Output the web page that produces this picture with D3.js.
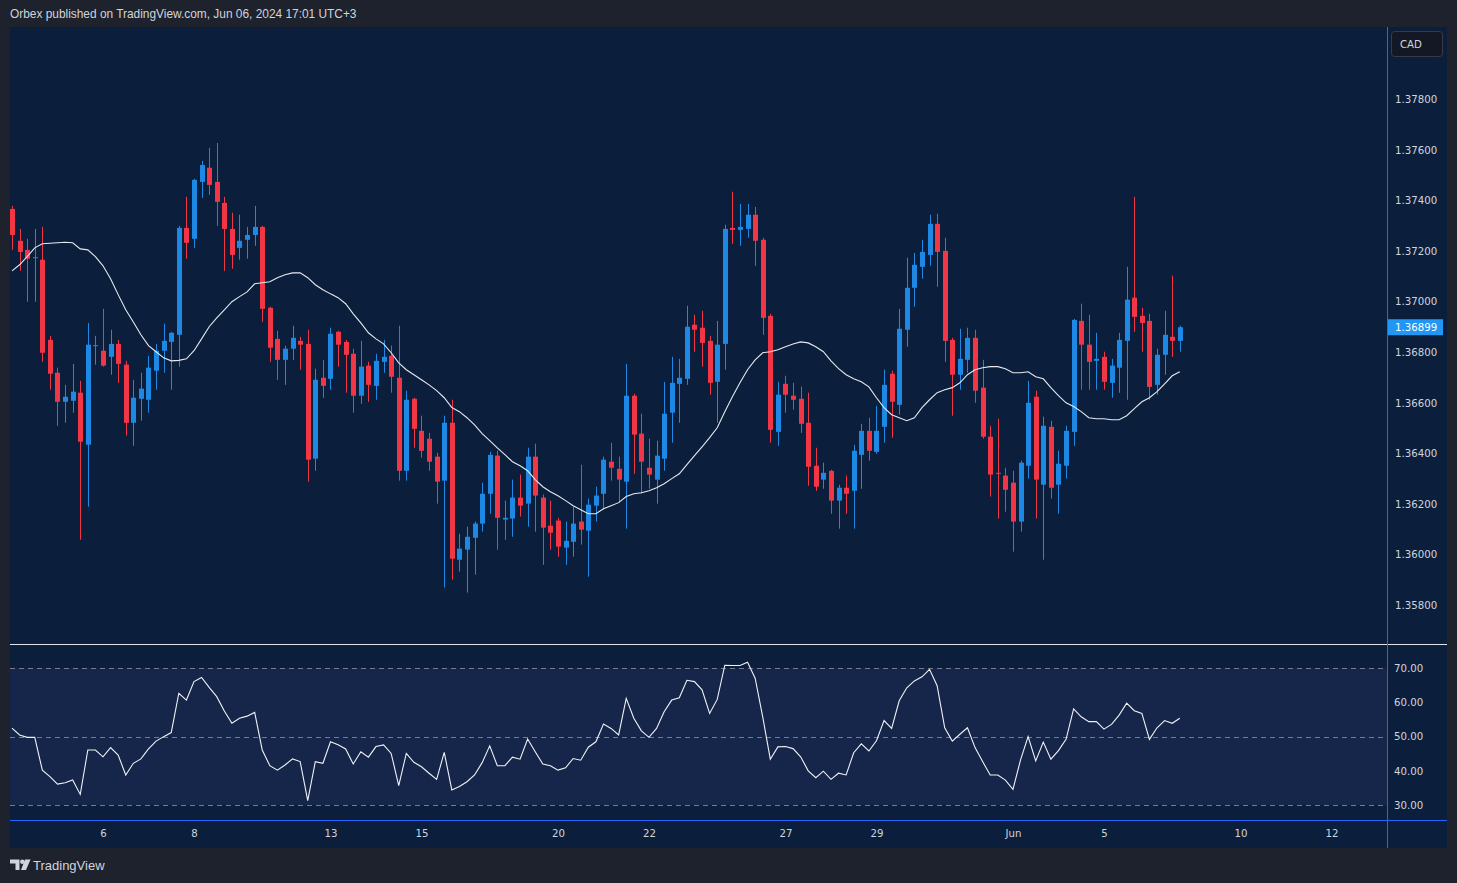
<!DOCTYPE html>
<html>
<head>
<meta charset="utf-8">
<script src="https://cdn.jsdelivr.net/npm/d3@7"></script>
<style>
  body { margin: 0; background: #1e222d; overflow: hidden; }
  svg { display: block; }
  .axis text { font-family: "DejaVu Sans", sans-serif; font-size: 10.2px; fill: #d1d4dc; }
</style>
</head>
<body>
<svg id="chart" width="1457" height="883"></svg>
<script>
// USDCAD 4H candles, May 2 - Jun 6 2024 (bar index 0 = first visible bar)
const opens = [
  1.37367,1.37241,1.37205,1.37174,1.37166,1.36849,1.36719,1.36604,1.36608,1.36640,
  1.36434,1.36826,1.36806,1.36782,1.36833,1.36751,1.36521,1.36616,1.36612,1.36727,
  1.36806,1.36841,1.36869,1.37292,1.37249,1.37474,1.37530,1.37474,1.37391,1.37288,
  1.37213,1.37245,1.37264,1.37296,1.36976,1.36853,1.36770,1.36814,1.36845,1.36833,
  1.36379,1.36699,1.36695,1.36881,1.36841,1.36794,1.36628,1.36747,1.36667,1.36762,
  1.36786,1.36699,1.36331,1.36616,1.36489,1.36458,1.36387,1.36292,1.36521,1.35979,
  1.36019,1.36066,1.36122,1.36240,1.36391,1.36138,1.36142,1.36225,1.36201,1.36387,
  1.36225,1.36114,1.36134,1.36027,1.36050,1.36130,1.36094,1.36193,1.36240,1.36367,
  1.36339,1.36288,1.36628,1.36478,1.36343,1.36296,1.36379,1.36561,1.36675,1.36695,
  1.36909,1.36897,1.36845,1.36683,1.36833,1.37292,1.37284,1.37288,1.37344,1.37245,
  1.36944,1.36485,1.36675,1.36628,1.36616,1.36521,1.36351,1.36296,1.36331,1.36213,
  1.36264,1.36252,1.36394,1.36489,1.36406,1.36505,1.36715,1.36592,1.36889,1.37055,
  1.37138,1.37185,1.37308,1.37201,1.36849,1.36711,1.36770,1.36857,1.36660,1.36466,
  1.36323,1.36312,1.36284,1.36130,1.36351,1.36624,1.36276,1.36505,1.36276,1.36351,
  1.36485,1.36924,1.36830,1.36766,1.36782,1.36679,1.36739,1.36845,1.37016,1.36944,
  1.36924,1.36671,1.36790,1.36861,1.36845
];
const highs = [
  1.37379,1.37288,1.37249,1.37288,1.37296,1.36865,1.36739,1.36671,1.36754,1.36687,
  1.36916,1.36865,1.36972,1.36889,1.36849,1.36766,1.36691,1.36719,1.36786,1.36833,
  1.36913,1.36881,1.37300,1.37415,1.37486,1.37557,1.37609,1.37628,1.37415,1.37352,
  1.37344,1.37296,1.37379,1.37300,1.36980,1.36885,1.36826,1.36905,1.36861,1.36889,
  1.36735,1.36770,1.36897,1.36885,1.36849,1.36814,1.36845,1.36762,1.36794,1.36849,
  1.36826,1.36905,1.36648,1.36620,1.36549,1.36481,1.36402,1.36549,1.36612,1.36082,
  1.36110,1.36130,1.36284,1.36406,1.36410,1.36213,1.36296,1.36316,1.36422,1.36438,
  1.36237,1.36213,1.36145,1.36130,1.36189,1.36355,1.36221,1.36268,1.36387,1.36442,
  1.36387,1.36754,1.36636,1.36557,1.36458,1.36450,1.36683,1.36782,1.36774,1.36984,
  1.36948,1.36964,1.36865,1.36924,1.37304,1.37435,1.37387,1.37387,1.37375,1.37253,
  1.36952,1.36683,1.36707,1.36679,1.36664,1.36640,1.36422,1.36363,1.36335,1.36276,
  1.36312,1.36434,1.36517,1.36541,1.36588,1.36731,1.36727,1.36972,1.37174,1.37193,
  1.37245,1.37344,1.37348,1.37253,1.36857,1.36893,1.36897,1.36889,1.36770,1.36509,
  1.36537,1.36343,1.36331,1.36371,1.36687,1.36648,1.36545,1.36529,1.36410,1.36509,
  1.36932,1.36992,1.36948,1.36877,1.36802,1.36774,1.36877,1.37138,1.37415,1.36976,
  1.36952,1.36814,1.36964,1.37103,1.36905
];
const lows = [
  1.37205,1.37122,1.37000,1.37000,1.36762,1.36652,1.36509,1.36521,1.36561,1.36058,
  1.36189,1.36751,1.36743,1.36711,1.36679,1.36470,1.36430,1.36529,1.36561,1.36652,
  1.36719,1.36652,1.36743,1.37170,1.37213,1.37411,1.37423,1.37300,1.37122,1.37130,
  1.37166,1.37170,1.37221,1.36920,1.36762,1.36691,1.36671,1.36770,1.36731,1.36288,
  1.36331,1.36620,1.36652,1.36743,1.36640,1.36561,1.36596,1.36604,1.36612,1.36719,
  1.36640,1.36292,1.36292,1.36422,1.36383,1.36331,1.36201,1.35869,1.35900,1.35932,
  1.35849,1.35920,1.36090,1.36161,1.36019,1.36058,1.36070,1.36150,1.36110,1.36090,
  1.35959,1.36019,1.35991,1.35959,1.35991,1.36039,1.35912,1.36130,1.36177,1.36292,
  1.36205,1.36102,1.36319,1.36240,1.36260,1.36201,1.36331,1.36442,1.36521,1.36671,
  1.36802,1.36743,1.36632,1.36521,1.36731,1.37229,1.37221,1.37253,1.37142,1.36869,
  1.36442,1.36430,1.36561,1.36573,1.36481,1.36272,1.36252,1.36260,1.36161,1.36102,
  1.36161,1.36102,1.36260,1.36371,1.36398,1.36442,1.36462,1.36553,1.36822,1.36980,
  1.37091,1.37142,1.37059,1.36762,1.36549,1.36652,1.36719,1.36600,1.36458,1.36229,
  1.36142,1.36169,1.36011,1.36090,1.36300,1.36142,1.35979,1.36221,1.36161,1.36300,
  1.36430,1.36652,1.36652,1.36652,1.36652,1.36620,1.36640,1.36612,1.36881,1.36802,
  1.36612,1.36632,1.36711,1.36782,1.36802
];
const closes = [
  1.37264,1.37197,1.37170,1.37176,1.36798,1.36715,1.36604,1.36624,1.36644,1.36446,
  1.36830,1.36828,1.36747,1.36833,1.36754,1.36521,1.36620,1.36656,1.36739,1.36806,
  1.36845,1.36877,1.37292,1.37233,1.37482,1.37541,1.37462,1.37395,1.37288,1.37185,
  1.37241,1.37264,1.37296,1.36972,1.36818,1.36770,1.36814,1.36857,1.36830,1.36375,
  1.36691,1.36667,1.36873,1.36830,1.36790,1.36628,1.36743,1.36671,1.36766,1.36782,
  1.36703,1.36331,1.36612,1.36497,1.36410,1.36367,1.36288,1.36521,1.35983,1.36023,
  1.36070,1.36122,1.36240,1.36394,1.36145,1.36145,1.36225,1.36193,1.36387,1.36233,
  1.36106,1.36086,1.36031,1.36054,1.36122,1.36098,1.36197,1.36233,1.36375,1.36343,
  1.36296,1.36628,1.36474,1.36367,1.36316,1.36391,1.36557,1.36679,1.36699,1.36901,
  1.36889,1.36837,1.36679,1.36830,1.37288,1.37284,1.37296,1.37344,1.37241,1.36936,
  1.36493,1.36632,1.36632,1.36612,1.36517,1.36347,1.36268,1.36323,1.36213,1.36264,
  1.36240,1.36410,1.36489,1.36410,1.36489,1.36671,1.36604,1.36893,1.37055,1.37146,
  1.37197,1.37308,1.37197,1.36845,1.36711,1.36774,1.36857,1.36648,1.36466,1.36316,
  1.36319,1.36256,1.36130,1.36363,1.36600,1.36296,1.36509,1.36264,1.36359,1.36489,
  1.36928,1.36830,1.36762,1.36774,1.36683,1.36747,1.36849,1.37008,1.36940,1.36916,
  1.36663,1.36790,1.36869,1.36845,1.36899
];
// moving average overlay
const maValues = [
  1.37122,1.37146,1.37178,1.37213,1.37229,1.37231,1.37233,1.37235,1.37233,1.37209,
  1.37205,1.37178,1.37142,1.37091,1.37028,1.36968,1.36920,1.36869,1.36826,1.36802,
  1.36778,1.36766,1.36768,1.36774,1.36806,1.36853,1.36901,1.36936,1.36968,1.37000,
  1.37020,1.37039,1.37071,1.37075,1.37079,1.37095,1.37107,1.37114,1.37114,1.37095,
  1.37067,1.37047,1.37031,1.37016,1.36992,1.36952,1.36916,1.36877,1.36853,1.36833,
  1.36798,1.36758,1.36731,1.36711,1.36691,1.36671,1.36648,1.36620,1.36581,1.36565,
  1.36541,1.36513,1.36478,1.36450,1.36422,1.36395,1.36367,1.36351,1.36331,1.36296,
  1.36268,1.36248,1.36232,1.36213,1.36193,1.36177,1.36161,1.36161,1.36181,1.36193,
  1.36205,1.36229,1.36240,1.36244,1.36252,1.36264,1.36280,1.36300,1.36319,1.36355,
  1.36391,1.36426,1.36462,1.36501,1.36565,1.36624,1.36679,1.36731,1.36770,1.36798,
  1.36802,1.36810,1.36822,1.36833,1.36841,1.36837,1.36822,1.36802,1.36766,1.36735,
  1.36711,1.36695,1.36683,1.36663,1.36620,1.36581,1.36553,1.36541,1.36529,1.36541,
  1.36581,1.36612,1.36640,1.36652,1.36660,1.36679,1.36711,1.36731,1.36739,1.36743,
  1.36743,1.36735,1.36719,1.36719,1.36723,1.36703,1.36695,1.36660,1.36628,1.36600,
  1.36585,1.36565,1.36541,1.36537,1.36537,1.36533,1.36533,1.36549,1.36577,1.36604,
  1.36620,1.36644,1.36675,1.36707,1.36723
];
const rsiValues = [
  52.5,50.5,49.8,49.8,40.2,38.3,36.1,36.5,37.3,33.1,
  46.1,46.1,44.1,46.8,44.6,38.8,42.2,43.5,46.4,48.7,
  50.0,51.2,62.7,60.7,66.1,67.3,64.4,61.7,57.5,53.9,
  55.4,56.0,57.1,46.1,41.5,40.2,41.7,43.5,42.7,31.3,
  42.7,42.2,48.5,47.6,46.4,42.0,45.6,44.0,47.1,47.6,
  45.1,35.7,45.1,42.5,41.2,39.3,37.5,45.4,34.4,35.4,
  36.8,38.8,42.4,47.3,41.5,41.5,44.0,43.4,49.3,45.6,
  42.0,41.5,40.2,40.9,43.6,43.1,46.9,48.5,53.7,52.4,
  50.5,61.2,55.4,51.7,49.8,52.4,57.3,60.7,61.4,66.5,
  66.1,63.7,56.8,60.9,70.9,70.8,70.8,71.8,67.1,55.8,
  43.4,47.0,47.1,46.5,44.1,40.0,38.0,39.9,37.5,39.3,
  38.8,45.3,47.9,45.8,48.8,54.7,52.4,60.5,64.3,66.3,
  67.5,69.7,64.9,52.6,48.7,50.7,52.6,46.8,42.7,38.8,
  38.8,37.3,34.6,43.2,50.0,42.9,48.4,43.4,45.9,49.2,
  58.1,55.8,54.4,54.4,52.2,53.6,56.3,59.8,57.6,56.8,
  49.2,52.6,54.7,53.9,55.4
];

// time axis: bar index of each day label (future days continue the 6-bars-a-day grid)
const tickIndex = [12, 24, 42, 54, 72, 84, 102, 114, 132, 144, 162, 174];
const tickLabels = ['6', '8', '13', '15', '20', '22', '27', '29', 'Jun', '5', '10', '12'];
const priceTicks = [1.358, 1.360, 1.362, 1.364, 1.366, 1.368, 1.370, 1.372, 1.374, 1.376, 1.378];
const rsiTicks = [30, 40, 50, 60, 70];
const rsiBands = [70, 50, 30];

const UP = '#1e88e5', DOWN = '#f23645';
const BG = '#0b1f3c', BAND = '#16264a';

const paneLeft = 10, plotRight = 1387, frameRight = 1447;
const paneTop = 27, priceBottom = 644.5, rsiBottom = 820.5, frameBottom = 848;

const svg = d3.select('#chart');

svg.append('rect').attr('width', 1457).attr('height', 883).attr('fill', '#1e222d');
svg.append('rect')
    .attr('x', paneLeft).attr('y', paneTop)
    .attr('width', frameRight - paneLeft).attr('height', frameBottom - paneTop)
    .attr('fill', BG);

const candles = d3.range(closes.length).map(i => ({
    i, o: opens[i], h: highs[i], l: lows[i], c: closes[i]
}));

const x = d3.scaleLinear().domain([(paneLeft - 12) / 7.583, (plotRight - 12) / 7.583]).range([paneLeft, plotRight]);
const y = d3.scaleLinear().domain([1.358, 1.378]).range([605, 99.5]);
const yr = d3.scaleLinear().domain([30, 70]).range([805, 668.3]);

// clip regions
const defs = svg.append('defs');
defs.append('clipPath').attr('id', 'clip-price')
    .append('rect').attr('x', paneLeft).attr('y', paneTop).attr('width', plotRight - paneLeft).attr('height', priceBottom - paneTop);
defs.append('clipPath').attr('id', 'clip-rsi')
    .append('rect').attr('x', paneLeft).attr('y', priceBottom).attr('width', plotRight - paneLeft).attr('height', rsiBottom - priceBottom);

// RSI pane background band + guide lines
svg.append('rect')
    .attr('x', paneLeft).attr('y', yr(70))
    .attr('width', plotRight - paneLeft).attr('height', yr(30) - yr(70))
    .attr('fill', BAND);

svg.selectAll('.band-line')
    .data(rsiBands)
    .enter()
    .append('line')
    .attr('class', 'band-line')
    .attr('x1', paneLeft).attr('x2', plotRight)
    .attr('y1', d => Math.round(yr(d)) + 0.5).attr('y2', d => Math.round(yr(d)) + 0.5)
    .attr('stroke', '#787b86')
    .attr('stroke-dasharray', '5,4')
    .attr('stroke-width', 1);

// candles
const pricePane = svg.append('g').attr('clip-path', 'url(#clip-price)');

const cg = pricePane.selectAll('.candle')
    .data(candles)
    .enter()
    .append('g')
    .attr('class', 'candle');

cg.append('line')
    .attr('x1', d => Math.round(x(d.i)) + 0.5)
    .attr('x2', d => Math.round(x(d.i)) + 0.5)
    .attr('y1', d => y(d.h))
    .attr('y2', d => y(d.l))
    .attr('stroke', d => d.c >= d.o ? UP : DOWN)
    .attr('stroke-width', 1);

cg.append('rect')
    .attr('x', d => Math.round(x(d.i)) - 2)
    .attr('width', 5)
    .attr('y', d => y(Math.max(d.o, d.c)))
    .attr('height', d => Math.max(1, Math.abs(y(d.o) - y(d.c))))
    .attr('fill', d => d.c >= d.o ? UP : DOWN);

// moving average
pricePane.append('path')
    .datum(maValues)
    .attr('fill', 'none')
    .attr('stroke', '#e6e8ee')
    .attr('stroke-width', 1.1)
    .attr('d', d3.line().x((d, i) => x(i)).y(d => y(d)));

// RSI line
svg.append('g').attr('clip-path', 'url(#clip-rsi)')
    .append('path')
    .datum(rsiValues)
    .attr('fill', 'none')
    .attr('stroke', '#f0f1f4')
    .attr('stroke-width', 1.1)
    .attr('d', d3.line().x((d, i) => x(i)).y(d => yr(d)));

// pane separators
svg.append('line')
    .attr('x1', paneLeft).attr('x2', frameRight)
    .attr('y1', priceBottom).attr('y2', priceBottom)
    .attr('stroke', '#e0e3eb').attr('stroke-width', 1);
svg.append('line')
    .attr('x1', paneLeft).attr('x2', frameRight)
    .attr('y1', rsiBottom).attr('y2', rsiBottom)
    .attr('stroke', '#2962ff').attr('stroke-width', 1.2);
svg.append('line')
    .attr('x1', plotRight + 0.5).attr('x2', plotRight + 0.5)
    .attr('y1', paneTop).attr('y2', frameBottom)
    .attr('stroke', '#2962ff').attr('stroke-width', 1);

// price axis
const priceAxis = svg.append('g')
    .attr('class', 'axis')
    .attr('transform', `translate(${plotRight},0)`)
    .call(d3.axisRight(y).tickValues(priceTicks).tickFormat(d3.format('.5f')).tickSize(0).tickPadding(8));
priceAxis.select('.domain').remove();

const rsiAxis = svg.append('g')
    .attr('class', 'axis')
    .attr('transform', `translate(${plotRight},0)`)
    .call(d3.axisRight(yr).tickValues(rsiTicks).tickFormat(d3.format('.2f')).tickSize(0).tickPadding(7));
rsiAxis.select('.domain').remove();

const timeAxis = svg.append('g')
    .attr('class', 'axis')
    .attr('transform', `translate(0,${rsiBottom})`)
    .call(d3.axisBottom(x).tickValues(tickIndex).tickFormat((d, i) => tickLabels[i]).tickSize(0).tickPadding(9.5));
timeAxis.select('.domain').remove();

// last price tag
const lastClose = closes[closes.length - 1];
svg.append('rect')
    .attr('x', plotRight + 1).attr('y', y(lastClose) - 8)
    .attr('width', 55).attr('height', 16)
    .attr('fill', '#2196f3');
svg.append('text')
    .attr('x', plotRight + 8).attr('y', y(lastClose))
    .attr('dy', '0.35em')
    .attr('font-family', 'DejaVu Sans, sans-serif')
    .attr('font-size', '10.2px')
    .attr('fill', '#ffffff')
    .text(d3.format('.5f')(lastClose));

// currency button
svg.append('rect')
    .attr('x', 1391.5).attr('y', 31.5)
    .attr('width', 51).attr('height', 25).attr('rx', 3)
    .attr('fill', '#141824').attr('stroke', '#363a45');
svg.append('text')
    .attr('x', 1400).attr('y', 44).attr('dy', '0.35em')
    .attr('font-family', 'DejaVu Sans, sans-serif')
    .attr('font-size', '10.2px')
    .attr('fill', '#d1d4dc')
    .text('CAD');

// header
svg.append('text')
    .attr('x', 10).attr('y', 18)
    .attr('font-family', 'Liberation Sans, Arial, sans-serif')
    .attr('font-size', '11.9px')
    .attr('fill', '#d1d4dc')
    .text('Orbex published on TradingView.com, Jun 06, 2024 17:01 UTC+3');

// footer logo
const logo = svg.append('g').attr('fill', '#d1d4dc');
logo.append('path').attr('d', 'M10,859.5 h9.5 v10.5 h-4 v-6.5 h-5.5 z');
logo.append('circle').attr('cx', 22.3).attr('cy', 861.8).attr('r', 2.2);
logo.append('path').attr('d', 'M25,859.5 h5.5 l-4.5,10.5 h-5 z');
svg.append('text')
    .attr('x', 33).attr('y', 870)
    .attr('font-family', 'Liberation Sans, Arial, sans-serif')
    .attr('font-size', '13px')
    .attr('fill', '#d1d4dc')
    .text('TradingView');
</script>
</body>
</html>
